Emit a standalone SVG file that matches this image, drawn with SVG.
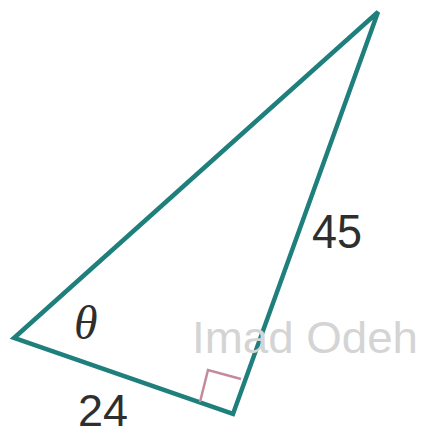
<svg xmlns="http://www.w3.org/2000/svg" width="426" height="436" viewBox="0 0 426 436">
<style>
.edge{fill:none;stroke:#1f7f7c;stroke-width:4.5;stroke-linejoin:miter}
.mark{fill:none;stroke:#c48a9c;stroke-width:2.5}
.lbl{font-family:"Liberation Sans",Arial,sans-serif;fill:#2e2e2e}
.wm{font-family:"Liberation Sans",Arial,sans-serif;fill:#d4d4d4;font-size:44px}
</style>
<rect width="426" height="436" fill="#ffffff"/>
<g id="connectors">
<polygon class="edge" points="14,338 378,12 233,414"/>
<polyline class="mark" points="200,402 208,370 241,379"/>
</g>
<g id="label-45"><text class="lbl" x="312" y="248" font-size="48" textLength="50" lengthAdjust="spacingAndGlyphs">45</text></g>
<g id="label-24"><text class="lbl" x="78" y="426" font-size="44" textLength="50" lengthAdjust="spacingAndGlyphs">24</text></g>
<g id="label-theta"><text x="74" y="339" font-family="'Liberation Serif','Times New Roman',serif" font-style="italic" font-size="48" fill="#2e2e2e">θ</text></g>
<g id="watermark"><text class="wm" x="192" y="353" textLength="226" lengthAdjust="spacingAndGlyphs">Imad Odeh</text></g>
</svg>
